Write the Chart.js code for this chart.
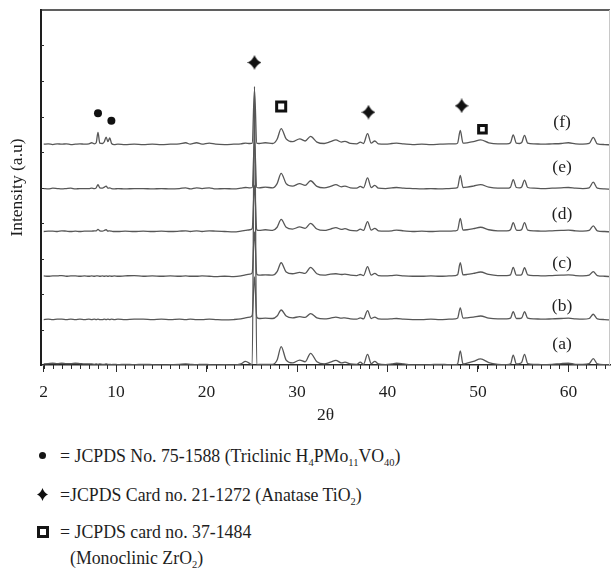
<!DOCTYPE html>
<html>
<head>
<meta charset="utf-8">
<script src="https://cdn.jsdelivr.net/npm/chart.js@4.4.1/dist/chart.umd.min.js"></script>
<style>
  body { margin: 0; background: #fff; }
  #wrap { position: relative; width: 611px; height: 579px; font-family: "Liberation Serif", "DejaVu Serif", serif; color: #1e1e1e; }
  #xrd { position: absolute; left: 0; top: 0; }
  .key { position: absolute; left: 0; width: 611px; height: 20px; font-size: 17.8px; line-height: 20px; white-space: nowrap; }
  .key .txt { position: absolute; top: 0; }
  .key sub { font-size: 10.5px; vertical-align: -4px; line-height: 0; }
  .key .dot { position: absolute; left: 39px; top: 6px; width: 7px; height: 7px; border-radius: 50%; background: #151515; }
  .key .box { position: absolute; left: 37px; top: 4px; width: 6px; height: 6px; border: 3px solid #151515; }
  .key canvas { position: absolute; left: 37px; top: 3px; }
</style>
</head>
<body>
<div id="wrap">
  <canvas id="xrd" width="611" height="430"></canvas>
  <div class="key" style="top:446px"><span class="dot"></span><span class="txt" style="left:60px">= JCPDS No. 75-1588 (Triclinic H<sub>4</sub>PMo<sub>11</sub>VO<sub>40</sub>)</span></div>
  <div class="key" id="keyStar" style="top:485px"><span class="txt" style="left:60px">=JCPDS Card no. 21-1272 (Anatase TiO<sub>2</sub>)</span></div>
  <div class="key" style="top:522px"><span class="box"></span><span class="txt" style="left:60px">= JCPDS card no. 37-1484</span></div>
  <div class="key" style="top:548px"><span class="txt" style="left:70px">(Monoclinic ZrO<sub>2</sub>)</span></div>
</div>
<script>
// 2θ positions shared by all six patterns
const twoTheta = [
  2, 2.5, 3, 3.5, 4, 4.5, 5, 5.5, 6, 6.5,
  7, 7.3, 7.6, 7.8, 8.0, 8.2, 8.5, 8.7, 8.9, 9.1, 9.3, 9.5, 9.8,
  10.2, 11, 12, 13, 14, 15, 16, 17, 17.7, 18.2, 18.9, 19.5, 20.3, 21, 22, 23, 23.8, 24.3, 24.8,
  25.05, 25.3, 25.55, 25.8,
  26.5, 27.3, 27.8, 28.25, 28.8, 29.5, 30.3, 30.9, 31.5, 32.2, 33, 33.7,
  34.3, 34.9, 35.3, 35.9, 36.6, 37.0, 37.35, 37.8, 38.2, 38.6, 39.0,
  39.8, 40.5, 41.0, 41.8, 42.8, 43.8, 44.8, 45.8, 46.8, 47.5,
  47.75, 48.05, 48.35, 48.8, 49.5, 50.3, 51.2, 52.2, 53.2,
  53.6, 53.9, 54.25, 54.6, 54.85, 55.15, 55.5, 56.2, 57.2, 58.2, 59.2,
  60.0, 60.8, 61.6, 62.3, 62.75, 63.2, 64, 64.6
];

const sampleNames = ["(a)", "(b)", "(c)", "(d)", "(e)", "(f)"];
// vertical shift of each pattern in the stack
const offsets = [0, 1.28, 2.5, 3.76, 4.96, 6.21];

const sampleA = [
  0.03, 0.04, 0.05, 0.04, 0.05, 0.04, 0.04, 0.05, 0.04, 0.03,
  0.03, 0.03, 0.02, 0.03, 0.02, 0.03, 0.02, 0.02, 0.03, 0.02, 0.02, 0.01, 0.02,
  0.01, 0.02, 0.01, 0.02, 0.01, 0.00, 0.01, 0.02, 0.03, 0.02, 0.01, 0.02, 0.01, 0.00, 0.01, 0.00, 0.03, 0.10, 0.04,
  0.00, 7.85, 0.00, 0.02,
  0.02, 0.02, 0.14, 0.52, 0.14, 0.06, 0.14, 0.09, 0.33, 0.09, 0.03, 0.08,
  0.13, 0.06, 0.08, 0.03, 0.02, 0.08, 0.02, 0.30, 0.04, 0.10, 0.03,
  0.01, 0.03, 0.05, 0.03, 0.00, 0.00, 0.01, 0.02, 0.01, 0.01,
  0.03, 0.40, 0.03, 0.05, 0.10, 0.17, 0.07, 0.02, 0.01,
  0.03, 0.28, 0.03, 0.04, 0.08, 0.30, 0.04, 0.02, 0.01, 0.02, 0.04,
  0.05, 0.02, 0.02, 0.04, 0.18, 0.03, 0.01, 0.00
];
const sampleB = [
  0.00, 0.01, 0.00, 0.01, 0.01, 0.00, 0.01, 0.00, 0.01, 0.00,
  0.01, 0.00, 0.01, 0.00, 0.01, 0.00, 0.00, 0.01, 0.00, 0.01, 0.00, 0.01, 0.00,
  0.01, 0.00, 0.01, 0.01, 0.00, 0.01, 0.00, 0.01, 0.00, 0.01, 0.00, 0.00, 0.01, 0.00, -0.01, 0.00, 0.02, 0.05, 0.07,
  0.12, 1.20, 0.07, 0.03,
  0.04, 0.03, 0.10, 0.27, 0.10, 0.05, 0.08, 0.06, 0.17, 0.05, 0.02, 0.04,
  0.07, 0.04, 0.05, 0.02, 0.01, 0.05, 0.02, 0.25, 0.03, 0.07, 0.02,
  0.01, 0.02, 0.03, 0.01, 0.00, 0.00, 0.01, 0.00, 0.01, 0.02,
  0.04, 0.33, 0.04, 0.05, 0.07, 0.10, 0.04, 0.02, 0.02,
  0.04, 0.22, 0.03, 0.03, 0.05, 0.22, 0.04, 0.02, 0.01, 0.02, 0.03,
  0.04, 0.02, 0.01, 0.03, 0.15, 0.02, 0.00, -0.01
];
const sampleC = [
  0.01, 0.00, 0.01, 0.01, 0.02, 0.00, 0.01, 0.01, 0.00, 0.01,
  0.00, 0.01, 0.00, 0.01, 0.01, 0.00, 0.01, 0.00, 0.01, 0.00, 0.01, 0.00, 0.01,
  0.00, 0.01, 0.02, 0.00, 0.01, 0.00, 0.01, 0.00, 0.01, 0.00, 0.00, 0.01, 0.00, -0.01, 0.00, -0.01, 0.01, 0.04, 0.06,
  0.10, 1.25, 0.06, 0.03,
  0.04, 0.03, 0.13, 0.38, 0.12, 0.07, 0.11, 0.08, 0.25, 0.07, 0.03, 0.06,
  0.07, 0.05, 0.06, 0.03, 0.02, 0.05, 0.02, 0.27, 0.03, 0.08, 0.02,
  0.01, 0.02, 0.03, 0.01, 0.00, 0.00, 0.01, 0.00, 0.01, 0.02,
  0.04, 0.38, 0.04, 0.05, 0.08, 0.12, 0.05, 0.02, 0.02,
  0.04, 0.25, 0.03, 0.03, 0.05, 0.24, 0.04, 0.02, 0.01, 0.02, 0.03,
  0.04, 0.02, 0.01, 0.03, 0.13, 0.02, 0.00, -0.01
];
const sampleD = [
  0.00, 0.01, 0.01, 0.00, 0.02, 0.01, 0.00, 0.01, 0.00, 0.01,
  0.01, 0.01, 0.02, 0.02, 0.06, 0.02, 0.01, 0.03, 0.05, 0.01, 0.02, 0.01, 0.00,
  0.00, 0.01, 0.00, 0.01, 0.00, 0.01, 0.00, 0.01, 0.02, 0.00, 0.02, 0.00, 0.02, 0.01, 0.00, -0.01, 0.01, 0.03, 0.05,
  0.08, 1.30, 0.05, 0.03,
  0.05, 0.03, 0.12, 0.34, 0.12, 0.07, 0.13, 0.09, 0.23, 0.07, 0.03, 0.07,
  0.11, 0.06, 0.08, 0.03, 0.02, 0.07, 0.03, 0.28, 0.04, 0.09, 0.02,
  0.01, 0.02, 0.04, 0.02, 0.00, 0.01, 0.00, 0.01, 0.01, 0.02,
  0.04, 0.37, 0.04, 0.05, 0.08, 0.12, 0.05, 0.02, 0.02,
  0.05, 0.25, 0.04, 0.03, 0.06, 0.25, 0.04, 0.02, 0.01, 0.02, 0.03,
  0.04, 0.02, 0.01, 0.03, 0.16, 0.02, 0.00, -0.01
];
const sampleE = [
  0.01, 0.00, 0.02, 0.01, 0.00, 0.01, 0.02, 0.00, 0.01, 0.01,
  0.01, 0.02, 0.01, 0.03, 0.12, 0.03, 0.02, 0.05, 0.08, 0.02, 0.03, 0.01, 0.00,
  0.01, 0.00, 0.01, 0.01, 0.00, 0.01, 0.00, 0.01, 0.03, 0.00, 0.03, 0.01, 0.03, 0.00, 0.01, 0.00, 0.02, 0.04, 0.03,
  0.04, 1.35, 0.04, 0.03,
  0.05, 0.03, 0.15, 0.44, 0.15, 0.08, 0.15, 0.10, 0.23, 0.07, 0.03, 0.07,
  0.12, 0.06, 0.08, 0.03, 0.02, 0.07, 0.03, 0.31, 0.04, 0.10, 0.02,
  0.01, 0.03, 0.04, 0.02, 0.01, 0.00, 0.01, 0.00, 0.01, 0.02,
  0.04, 0.38, 0.04, 0.05, 0.08, 0.12, 0.05, 0.02, 0.02,
  0.05, 0.26, 0.04, 0.03, 0.06, 0.25, 0.04, 0.02, 0.01, 0.02, 0.03,
  0.04, 0.02, 0.01, 0.03, 0.19, 0.02, 0.00, -0.01
];
const sampleF = [
  0.01, 0.02, 0.00, 0.02, 0.01, 0.02, 0.00, 0.01, 0.02, 0.01,
  0.02, 0.05, 0.02, 0.05, 0.34, 0.04, 0.03, 0.08, 0.21, 0.08, 0.19, 0.03, 0.00,
  0.01, 0.00, 0.01, 0.00, 0.01, 0.00, 0.01, 0.02, 0.05, 0.01, 0.05, 0.01, 0.04, 0.01, 0.00, 0.01, 0.02, 0.04, 0.03,
  0.04, 1.55, 0.04, 0.03,
  0.05, 0.03, 0.15, 0.45, 0.16, 0.08, 0.16, 0.10, 0.23, 0.07, 0.03, 0.08,
  0.13, 0.07, 0.09, 0.03, 0.02, 0.07, 0.03, 0.31, 0.04, 0.10, 0.02,
  0.01, 0.03, 0.04, 0.02, 0.00, 0.01, 0.00, 0.01, 0.02, 0.02,
  0.04, 0.40, 0.04, 0.05, 0.08, 0.13, 0.05, 0.02, 0.02,
  0.05, 0.27, 0.04, 0.03, 0.06, 0.26, 0.04, 0.02, 0.01, 0.02, 0.03,
  0.05, 0.02, 0.01, 0.03, 0.20, 0.02, 0.00, -0.01
];
const samples = [sampleA, sampleB, sampleC, sampleD, sampleE, sampleF];

// phase markers above the reflections (2θ, height)
const hpaMarks = [{ x: 8.0, y: 7.09 }, { x: 9.48, y: 6.88 }];
const anataseMarks = [{ x: 25.3, y: 8.52 }, { x: 37.9, y: 7.12 }, { x: 48.2, y: 7.3 }];
const zirconiaMarks = [{ x: 28.25, y: 7.28 }, { x: 50.5, y: 6.64 }];

const xTickValues = [2, 10, 20, 30, 40, 50, 60];

const serif = '"Liberation Serif", "DejaVu Serif", serif';
const ink = "#1e1e1e";

// four pointed star used for the anatase marks
function starCanvas(w, h) {
    const c = document.createElement("canvas");
    c.width = w;
    c.height = h;
    const g = c.getContext("2d");
    const cx = w / 2, cy = h / 2;
    g.fillStyle = "#111";
    g.beginPath();
    g.moveTo(cx, 0);
    g.quadraticCurveTo(cx + w * 0.14, cy - h * 0.14, w, cy);
    g.quadraticCurveTo(cx + w * 0.14, cy + h * 0.14, cx, h);
    g.quadraticCurveTo(cx - w * 0.14, cy + h * 0.14, 0, cy);
    g.quadraticCurveTo(cx - w * 0.14, cy - h * 0.14, cx, 0);
    g.fill();
    return c;
}

document.getElementById("keyStar").appendChild(starCanvas(11, 13));

let datasets = samples.map((rows, i) => {
    if (rows.length != twoTheta.length) console.error("length mismatch", sampleNames[i]);
    return {
        label: sampleNames[i],
        data: twoTheta.map((t, k) => ({ x: t, y: rows[k] + offsets[i] })),
        borderColor: "#575757",
        borderWidth: 1.3,
        pointRadius: 0,
        cubicInterpolationMode: "monotone",
        showLine: true,
    };
});

datasets.push({
    label: "hpa",
    data: hpaMarks,
    pointStyle: "circle",
    pointRadius: 4,
    backgroundColor: "#111",
    borderWidth: 0,
    showLine: false,
});
datasets.push({
    label: "anatase",
    data: anataseMarks,
    pointStyle: starCanvas(14, 15),
    showLine: false,
});
datasets.push({
    label: "zirconia",
    data: zirconiaMarks,
    pointStyle: "rect",
    pointRadius: [6.4, 5.4],
    backgroundColor: "#fff",
    borderColor: "#111",
    borderWidth: 3,
    showLine: false,
});

// sample tags, placed in data units next to the right edge
const tagX = 59.3;
const tagY = [0.59, 1.66, 2.86, 4.23, 5.56, 6.83];

const frameAndTicks = {
    id: "frameAndTicks",
    afterDraw(chart) {
        const { ctx, chartArea: a, scales } = chart;
        ctx.save();
        // top and right edge of the frame
        ctx.strokeStyle = "#2a2a2a";
        ctx.lineWidth = 1.5;
        ctx.beginPath();
        ctx.moveTo(a.left, a.top);
        ctx.lineTo(a.right, a.top);
        ctx.stroke();
        ctx.strokeStyle = "#c8c8c8";
        ctx.lineWidth = 1;
        ctx.beginPath();
        ctx.moveTo(a.right - 0.5, a.top);
        ctx.lineTo(a.right - 0.5, a.bottom);
        ctx.stroke();

        // minor 2θ ticks every degree
        ctx.strokeStyle = "#2a2a2a";
        ctx.lineWidth = 1;
        ctx.beginPath();
        for (let v = 2; v <= 64; v++) {
            const px = Math.round(scales.x.getPixelForValue(v)) + 0.5;
            ctx.moveTo(px, a.bottom);
            ctx.lineTo(px, a.bottom + 4);
        }
        // inner intensity ticks
        for (let v = 1; v < 10; v++) {
            const py = Math.round(scales.y.getPixelForValue(v)) + 0.5;
            ctx.moveTo(a.left, py);
            ctx.lineTo(a.left + 3, py);
        }
        ctx.stroke();

        ctx.fillStyle = ink;
        ctx.font = "17.5px " + serif;
        ctx.textAlign = "center";
        ctx.textBaseline = "middle";
        sampleNames.forEach((name, i) => {
            ctx.fillText(name, scales.x.getPixelForValue(tagX), scales.y.getPixelForValue(tagY[i]));
        });
        ctx.restore();
    },
};

new Chart(document.getElementById("xrd"), {
    type: "scatter",
    data: { datasets: datasets },
    options: {
        responsive: false,
        animation: false,
        layout: { autoPadding: false, padding: { top: 10, right: 1, left: 0, bottom: 0 } },
        plugins: { legend: { display: false }, tooltip: { enabled: false } },
        scales: {
            x: {
                type: "linear",
                min: 1.7,
                max: 64.6,
                afterBuildTicks: (scale) => {
                    scale.ticks = xTickValues.map((v) => ({ value: v }));
                },
                afterFit: (scale) => {
                    scale.height = 65;
                    scale.paddingLeft = 0;
                    scale.paddingRight = 0;
                },
                ticks: {
                    autoSkip: false,
                    maxRotation: 0,
                    padding: 10,
                    color: ink,
                    font: { family: serif, size: 17.5 },
                    callback: (v) => v,
                },
                grid: { drawOnChartArea: false, drawTicks: true, tickLength: 7, tickColor: "#2a2a2a" },
                border: { color: "#2a2a2a", width: 1.5 },
                title: {
                    display: true,
                    text: "2θ",
                    color: ink,
                    font: { family: serif, size: 17.5 },
                    padding: { top: 0, bottom: 4 },
                },
            },
            y: {
                min: 0,
                max: 10,
                afterFit: (scale) => { scale.width = 41; },
                ticks: { display: false },
                grid: { display: false },
                border: { color: "#1e1e1e", width: 2 },
                title: {
                    display: true,
                    text: "Intensity (a.u)",
                    color: ink,
                    font: { family: serif, size: 17.5 },
                    padding: { top: 7, bottom: 0 },
                },
            },
        },
    },
    plugins: [frameAndTicks],
});
</script>
</body>
</html>
